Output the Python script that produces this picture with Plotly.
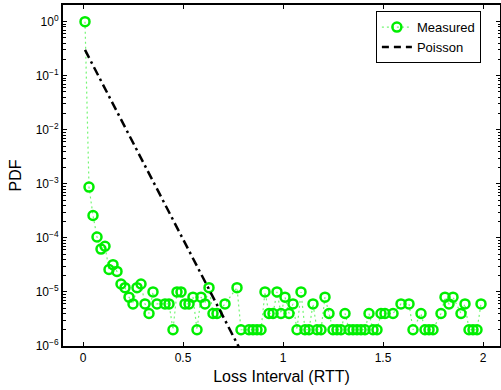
import plotly.graph_objects as go

# Measured PDF (loss interval in RTT, PDF)
MEASURED_X = [0.01, 0.03, 0.05, 0.07, 0.09, 0.11, 0.13, 0.15, 0.17, 0.19,
              0.21, 0.23, 0.25, 0.27, 0.29, 0.31, 0.33, 0.35, 0.37, 0.41,
              0.43, 0.45, 0.47, 0.49, 0.51, 0.53, 0.55, 0.57, 0.59, 0.61,
              0.63, 0.65, 0.67, 0.71, 0.77, 0.79, 0.83, 0.85, 0.87, 0.89,
              0.91, 0.93, 0.95, 0.97, 0.99, 1.01, 1.03, 1.05, 1.07, 1.09,
              1.11, 1.13, 1.15, 1.17, 1.19, 1.21, 1.23, 1.25, 1.27, 1.29,
              1.31, 1.33, 1.35, 1.37, 1.39, 1.41, 1.43, 1.45, 1.47, 1.49,
              1.51, 1.55, 1.59, 1.63, 1.65, 1.69, 1.71, 1.73, 1.75, 1.79,
              1.81, 1.83, 1.85, 1.89, 1.91, 1.93, 1.95, 1.97, 1.99]
MEASURED_Y = [1.0, 8.7e-4, 2.6e-4, 1.04e-4, 6.2e-5, 7e-5, 2.6e-5, 3.2e-5, 2.4e-5, 1.4e-5,
              1.2e-5, 8e-6, 6e-6, 1.2e-5, 1.4e-5, 6e-6, 4e-6, 1e-5, 6e-6, 6e-6,
              6e-6, 2e-6, 1e-5, 1e-5, 6e-6, 6e-6, 8e-6, 2e-6, 8e-6, 6e-6,
              1.2e-5, 4e-6, 4e-6, 6e-6, 1.2e-5, 2e-6, 2e-6, 2e-6, 2e-6, 2e-6,
              1e-5, 4e-6, 4e-6, 1e-5, 4e-6, 8e-6, 4e-6, 6e-6, 2e-6, 1e-5,
              2e-6, 2e-6, 6e-6, 2e-6, 2e-6, 8e-6, 4e-6, 2e-6, 2e-6, 2e-6,
              4e-6, 2e-6, 2e-6, 2e-6, 2e-6, 2e-6, 4e-6, 2e-6, 2e-6, 4e-6,
              4e-6, 4e-6, 6e-6, 6e-6, 2e-6, 4e-6, 2e-6, 2e-6, 2e-6, 4e-6,
              8e-6, 6e-6, 8e-6, 4e-6, 6e-6, 2e-6, 2e-6, 2e-6, 6e-6]

# Poisson model (straight line on log scale)
POISSON_X = [0.01, 0.85]
POISSON_Y = [0.30, 3.0e-7]

X_TICKS = [0, 0.5, 1, 1.5, 2]
X_TICK_LABELS = ["0", "0.5", "1", "1.5", "2"]
Y_TICKS = [1e-6, 1e-5, 1e-4, 1e-3, 1e-2, 1e-1, 1]
Y_TICK_LABELS = ["10<sup>\u22126</sup>", "10<sup>\u22125</sup>", "10<sup>\u22124</sup>",
                 "10<sup>\u22123</sup>", "10<sup>\u22122</sup>", "10<sup>\u22121</sup>",
                 "10<sup>0</sup>"]

FONT = "Liberation Sans, Arial, Helvetica, sans-serif"
GREEN = "#00ee00"

fig = go.Figure()

fig.add_trace(go.Scatter(
    x=MEASURED_X, y=MEASURED_Y, name="Measured", mode="lines+markers",
    line=dict(color="rgba(0,238,0,0.55)", width=1.2, dash="2px,3px"),
    marker=dict(symbol="circle-open", size=9, color=GREEN, line=dict(width=2.5, color=GREEN)),
))
fig.add_trace(go.Scatter(
    x=POISSON_X, y=POISSON_Y, name="Poisson", mode="lines", showlegend=False,
    line=dict(color="black", width=2.5, dash="9px,4px,2.5px,4px"),
))
fig.add_trace(go.Scatter(
    x=[None], y=[None], name="Poisson", mode="lines",
    line=dict(color="black", width=2.5, dash="7px,5px"),
))

minor_vals = [m * 10 ** e for e in range(-6, 1) for m in range(2, 10)]

fig.update_layout(
    width=501, height=390,
    margin=dict(l=63, r=1, t=5, b=44, autoexpand=False),
    paper_bgcolor="white", plot_bgcolor="white",
    font=dict(family=FONT, size=12, color="black"),
    showlegend=True,
    legend=dict(x=0.716, y=0.982, xanchor="left", yanchor="top",
                bgcolor="white", bordercolor="black", borderwidth=1,
                font=dict(family=FONT, size=13, color="black"),
                tracegroupgap=0, itemwidth=30),
    xaxis=dict(range=[-0.1, 2.085], tickvals=X_TICKS, ticktext=X_TICK_LABELS,
               ticks="inside", ticklen=4, tickwidth=1, tickcolor="black",
               showline=True, linecolor="black", linewidth=2, mirror="ticks",
               showgrid=False, zeroline=False,
               title=dict(text="Loss Interval (RTT)", font=dict(size=16, family=FONT), standoff=6),
               tickfont=dict(size=12, family=FONT)),
    yaxis=dict(type="log", range=[-6, 0.308], tickvals=Y_TICKS, ticktext=Y_TICK_LABELS,
               ticks="inside", ticklen=4, tickwidth=1, tickcolor="black",
               showline=True, linecolor="black", linewidth=2, mirror="ticks",
               showgrid=False, zeroline=False,
               minor=dict(tickvals=minor_vals, ticks="inside", ticklen=2.5, tickcolor="black",
                          tickwidth=1, showgrid=False),
               title=dict(text="PDF", font=dict(size=16, family=FONT), standoff=10),
               tickfont=dict(size=12, family=FONT)),
)

fig.write_html("out.html", config={"displayModeBar": False},
               post_script="document.body.style.margin='0';")
